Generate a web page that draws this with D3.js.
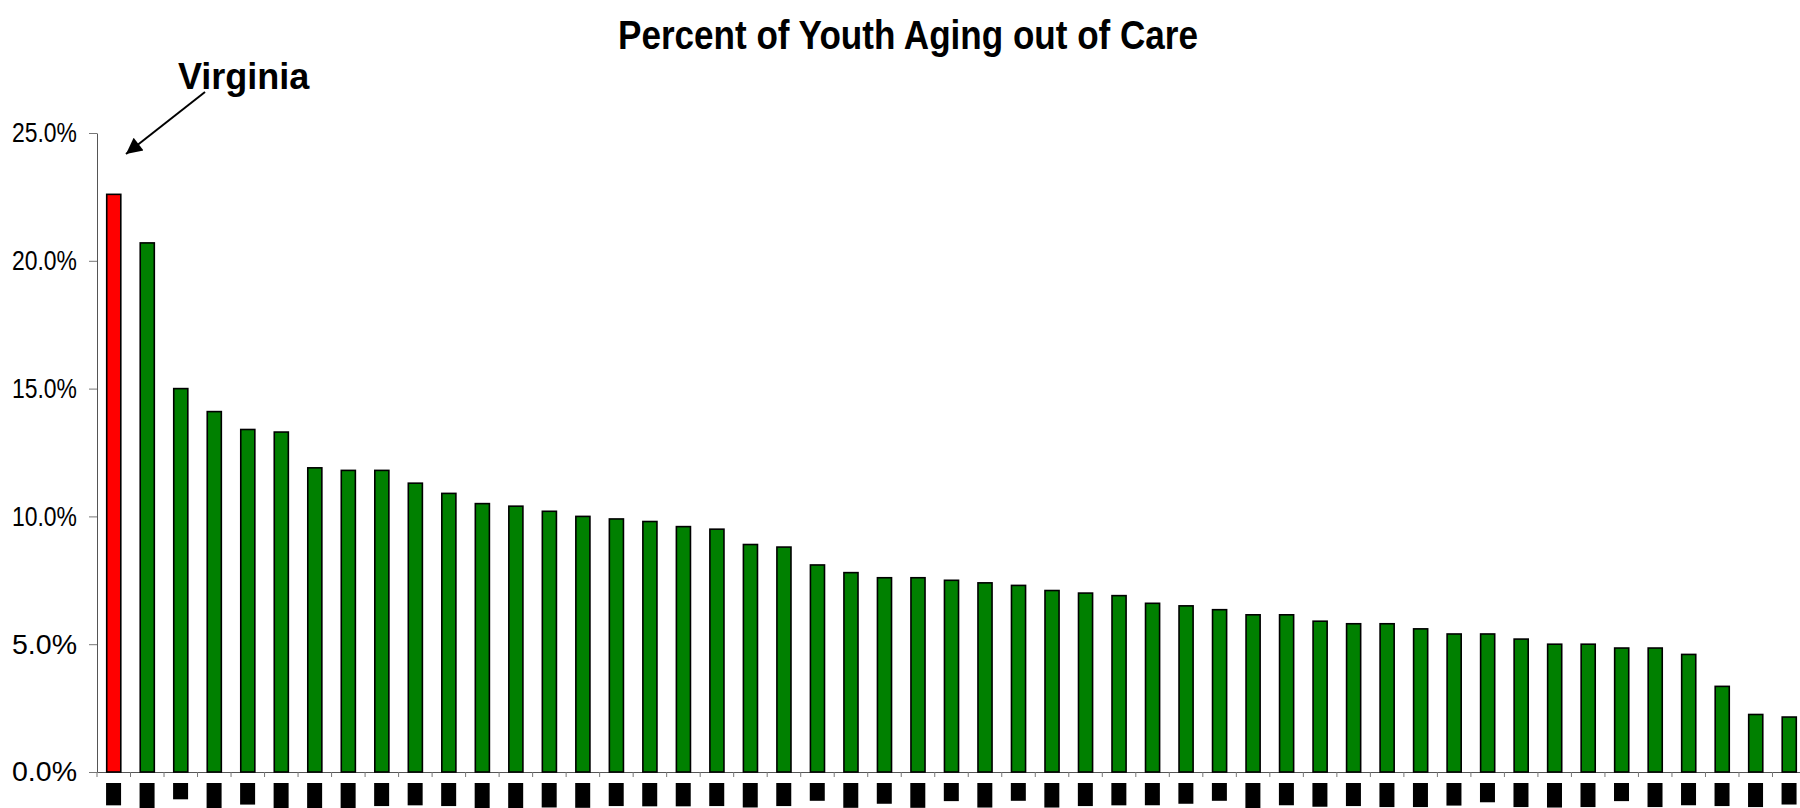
<!DOCTYPE html>
<html>
<head>
<meta charset="utf-8">
<script src="https://cdn.jsdelivr.net/npm/d3@7"></script>
<style>
  body { margin: 0; background: #fff; }
  svg { display: block; }
</style>
</head>
<body>
<svg width="1800" height="808"></svg>
<script>
// states, sorted by share of youth aging out of care
var states = ["VA", "MN", "IL", "WV", "TX", "MO", "MD", "NM", "NV", "VT",
    "NY", "WA", "MA", "OH", "OK", "NE", "SC", "SD", "KS", "CO",
    "KY", "IN", "OR", "FL", "GA", "ID", "ME", "HI", "MS", "DE",
    "PA", "AL", "WI", "RI", "WY", "AZ", "NH", "CT", "ND", "NC",
    "LA", "MI", "DC", "MT", "AK", "IA", "AR", "TN", "UT", "CA", "NJ"]

// percent of youth aging out of care
var percents = [22.6, 20.7, 15.0, 14.1, 13.4, 13.3, 11.9, 11.8, 11.8, 11.3,
    10.9, 10.5, 10.4, 10.2, 10.0, 9.9, 9.8, 9.6, 9.5, 8.9,
    8.8, 8.1, 7.8, 7.6, 7.6, 7.5, 7.4, 7.3, 7.1, 7.0,
    6.9, 6.6, 6.5, 6.35, 6.15, 6.15, 5.9, 5.8, 5.8, 5.6,
    5.4, 5.4, 5.2, 5.0, 5.0, 4.85, 4.85, 4.6, 3.35, 2.25, 2.15]

var yTicks = [0, 5, 10, 15, 20, 25]
var highlighted = "VA"
var highlightName = "Virginia"
var title = "Percent of Youth Aging out of Care"

var data = states.map((s, i) => ({ state: s, value: percents[i] }))

var svg = d3.select("svg"),
    width = +svg.attr("width"),
    height = +svg.attr("height");

var x = d3.scaleBand()
    .domain(states)
    .range([97, 1806])
    .paddingInner(0.58)
    .paddingOuter(0.29);

var y = d3.scaleLinear()
    .domain([0, 25])
    .range([772, 133]);

// Y axis
var yAxis = svg.append("g")
    .attr("transform", "translate(97,0)")
    .call(d3.axisLeft(y)
        .tickValues(yTicks)
        .tickSize(8)
        .tickSizeOuter(0)
        .tickPadding(12)
        .tickFormat(d => d.toFixed(1) + "%"));

yAxis.select(".domain").attr("stroke", "#555");
yAxis.selectAll(".tick line").attr("stroke", "#777");
yAxis.selectAll(".tick text")
    .attr("font-family", "'Liberation Sans Narrow', 'Arial Narrow', 'Liberation Sans', sans-serif")
    .attr("font-size", 28)
    .attr("textLength", 65)
    .attr("lengthAdjust", "spacingAndGlyphs")
    .attr("fill", "#000");

// X axis, ticks sit between the bars
var xAxis = svg.append("g")
    .attr("transform", "translate(0,772)")
    .call(d3.axisBottom(x).tickSize(5).tickSizeOuter(0).tickFormat(""));

xAxis.select(".domain").attr("stroke", "#555");
xAxis.selectAll(".tick line")
    .attr("stroke", "#777")
    .attr("x1", x.step() / 2)
    .attr("x2", x.step() / 2);

xAxis.append("line")
    .attr("x1", 97).attr("x2", 97)
    .attr("y1", 0).attr("y2", 5)
    .attr("stroke", "#777");

// bars
svg.append("g")
    .selectAll("rect")
    .data(data)
    .join("rect")
    .attr("x", d => x(d.state))
    .attr("y", d => y(d.value))
    .attr("width", x.bandwidth())
    .attr("height", d => y(0) - y(d.value))
    .attr("fill", d => d.state == highlighted ? "#ff0000" : "#008000")
    .attr("stroke", "#000")
    .attr("stroke-width", 1.6);

// state labels under the axis (blacked out in the original)
var labels = svg.append("g")
    .selectAll("g")
    .data(states)
    .join("g")
    .attr("transform", d => "translate(" + (x(d) + x.bandwidth() / 2) + ",783) rotate(90)");

labels.append("text")
    .attr("x", 2.2)
    .attr("dy", "0.35em")
    .attr("font-family", "'Liberation Sans', Arial, sans-serif")
    .attr("font-weight", "bold")
    .attr("font-size", 13.4)
    .attr("fill", "#000")
    .text(d => d);

labels.each(function () {
    var g = d3.select(this);
    var b = g.select("text").node().getBBox();
    g.insert("rect", "text")
        .attr("x", b.x - 2.2)
        .attr("y", b.y)
        .attr("width", b.width + 4.4)
        .attr("height", b.height)
        .attr("fill", "#000");
});

// title
svg.append("text")
    .attr("x", 908)
    .attr("y", 49)
    .attr("text-anchor", "middle")
    .attr("font-family", "'Liberation Sans Narrow', 'Arial Narrow', 'Liberation Sans', sans-serif")
    .attr("font-weight", "bold")
    .attr("font-size", 41)
    .attr("textLength", 580)
    .attr("lengthAdjust", "spacingAndGlyphs")
    .text(title);

// Virginia callout
svg.append("defs").append("marker")
    .attr("id", "head")
    .attr("viewBox", "0 0 10 10")
    .attr("refX", 10).attr("refY", 5)
    .attr("markerWidth", 9).attr("markerHeight", 8)
    .attr("markerUnits", "strokeWidth")
    .attr("orient", "auto")
    .append("path")
    .attr("d", "M0,0 L10,5 L0,10 Z")
    .attr("fill", "#000");

svg.append("text")
    .attr("x", 178)
    .attr("y", 89)
    .attr("font-family", "'Liberation Sans', Arial, sans-serif")
    .attr("font-weight", "bold")
    .attr("font-size", 36)
    .text(highlightName);

svg.append("line")
    .attr("x1", 205).attr("y1", 92)
    .attr("x2", 126).attr("y2", 154)
    .attr("stroke", "#000")
    .attr("stroke-width", 2)
    .attr("marker-end", "url(#head)");
</script>
</body>
</html>
